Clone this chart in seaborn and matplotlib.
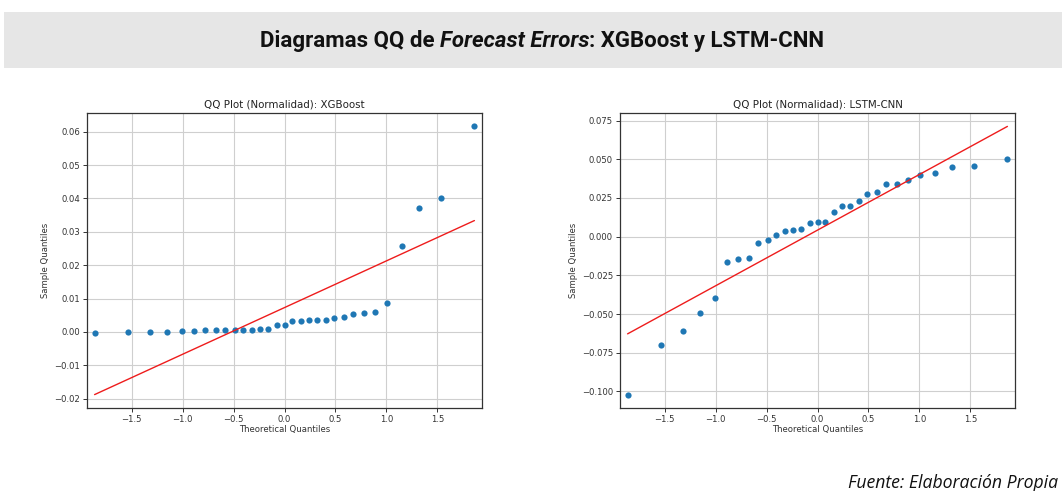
import numpy as np
import pandas as pd
import matplotlib
matplotlib.use("Agg")
import matplotlib.pyplot as plt
import seaborn as sns
from statistics import NormalDist

# Sorted forecast errors of each model
xgb_errors = [-0.0003, 0.0000, 0.0001, 0.0001, 0.0003, 0.0003, 0.0005, 0.0005,
              0.0005, 0.0006, 0.0006, 0.0007, 0.0009, 0.0009, 0.0021, 0.0021,
              0.0032, 0.0034, 0.0036, 0.0036, 0.0036, 0.0043, 0.0045, 0.0053,
              0.0057, 0.0061, 0.0087, 0.0258, 0.0372, 0.0400, 0.0616]
lstm_errors = [-0.1020, -0.0697, -0.0607, -0.0493, -0.0397, -0.0165, -0.0141, -0.0137,
               -0.0038, -0.0021, 0.0013, 0.0037, 0.0041, 0.0047, 0.0086, 0.0095,
               0.0095, 0.0159, 0.0196, 0.0200, 0.0233, 0.0276, 0.0287, 0.0338,
               0.0338, 0.0366, 0.0399, 0.0409, 0.0453, 0.0457, 0.0502]

panel_titles = ["QQ Plot (Normalidad): XGBoost", "QQ Plot (Normalidad): LSTM-CNN"]
xticks = [-1.5, -1.0, -0.5, 0.0, 0.5, 1.0, 1.5]
yticks_xgb = [-0.02, -0.01, 0.00, 0.01, 0.02, 0.03, 0.04, 0.05, 0.06]
yticks_lstm = [-0.100, -0.075, -0.050, -0.025, 0.000, 0.025, 0.050, 0.075]

W, H = 1062, 491
fig = plt.figure(figsize=(W / 100, H / 100), dpi=100)
sns.set_style("ticks")
plt.rcParams["font.family"] = ["DejaVu Sans"]


def qq_frame(values):
    y = np.sort(np.asarray(values, dtype=float))
    n = len(y)
    nd = NormalDist()
    theo = np.array([nd.inv_cdf(i / (n + 1)) for i in range(1, n + 1)])
    return pd.DataFrame({"theoretical": theo, "sample": y})


def draw_qq(ax, values, title, yticks, yfmt):
    df = qq_frame(values)
    # standardized reference line: slope = std, intercept = mean
    m, b = df["sample"].std(ddof=0), df["sample"].mean()
    line = pd.DataFrame({"theoretical": df["theoretical"],
                         "fit": b + m * df["theoretical"]})
    sns.scatterplot(data=df, x="theoretical", y="sample", ax=ax,
                    color="#1f77b4", s=20, linewidth=0, zorder=3)
    sns.lineplot(data=line, x="theoretical", y="fit", ax=ax,
                 color="#ee1c1c", linewidth=1.0, zorder=4)
    ax.margins(x=0.02, y=0.05)
    ax.set_xticks(xticks)
    ax.set_xticklabels([f"{t:.1f}".replace("-", "\u2212") for t in xticks])
    ax.set_yticks(yticks)
    ax.set_yticklabels([yfmt.format(t).replace("-", "\u2212") for t in yticks])
    ax.grid(True, color="#cfcfcf", linewidth=0.8)
    ax.set_axisbelow(True)
    for sp in ax.spines.values():
        sp.set_visible(True)
        sp.set_color("#333333")
        sp.set_linewidth(0.9)
    ax.tick_params(labelsize=6.1, colors="#333333", length=3, width=0.7,
                   pad=2)
    ax.set_title(title, fontsize=7.4, color="#222222", pad=4)
    ax.set_xlabel("Theoretical Quantiles", fontsize=6.1, color="#333333",
                  labelpad=1)
    ax.set_ylabel("Sample Quantiles", fontsize=6.1, color="#333333",
                  labelpad=3)


def px_axes(left, top, right, bottom):
    return fig.add_axes([left / W, 1 - bottom / H, (right - left) / W,
                         (bottom - top) / H])


ax1 = px_axes(87, 113, 482, 408)
ax2 = px_axes(620, 113, 1015, 408)
draw_qq(ax1, xgb_errors, panel_titles[0], yticks_xgb, "{:.2f}")
draw_qq(ax2, lstm_errors, panel_titles[1], yticks_lstm, "{:.3f}")

# header banner
fig.patches.append(plt.Rectangle((4 / W, 1 - 68 / H), 1 - 4 / W, 56 / H,
                                 transform=fig.transFigure,
                                 facecolor="#e6e6e6", edgecolor="none",
                                 zorder=0))

# title with an italic segment, laid out piece by piece
pieces = [("Diagramas QQ de ", "normal"), ("Forecast Errors", "italic"),
          (": XGBoost y LSTM-CNN", "normal")]
title_font = ["Roboto", "DejaVu Sans"]
renderer = fig.canvas.get_renderer()
texts = []
for txt, style in pieces:
    t = fig.text(0, 1 - 41 / H, txt, fontsize=16, fontweight="bold",
                 fontstyle=style, family=title_font, va="center", ha="left",
                 color="#111111")
    texts.append(t)
widths = [t.get_window_extent(renderer).width for t in texts]
x = 542 - sum(widths) / 2
for t, w in zip(texts, widths):
    t.set_x(x / W)
    x += w

fig.text(1058 / W, 1 - 483 / H, "Fuente: Elaboración Propia", fontsize=12.7,
         fontstyle="italic", family=["Open Sans", "DejaVu Sans"], ha="right",
         va="center", color="#111111")

fig.savefig("out.png", dpi=100)
